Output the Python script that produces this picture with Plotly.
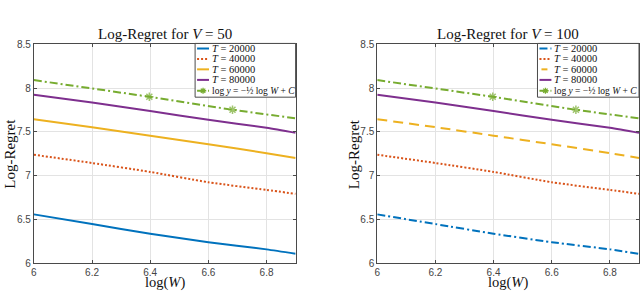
import plotly.graph_objects as go

# ---------------- data ----------------
log_W = [6.0, 6.2, 6.4, 6.6, 6.8, 6.9]
regret_T20000 = [6.558, 6.447, 6.337, 6.240, 6.158, 6.107]
regret_T40000 = [7.239, 7.145, 7.043, 6.925, 6.837, 6.793]
regret_T60000 = [7.645, 7.554, 7.457, 7.359, 7.257, 7.203]
regret_T80000 = [7.924, 7.837, 7.739, 7.638, 7.547, 7.489]
ref_log_W = [6.0, 6.397, 6.683, 6.9]
ref_log_y = [8.092, 7.902, 7.753, 7.655]
ref_marker_size = [0, 7, 7, 0]

series_labels = ["<i>T</i> = 20000", "<i>T</i> = 40000", "<i>T</i> = 60000", "<i>T</i> = 80000"]
ref_label = "log <i>y</i> = −½ log <i>W</i> + <i>C</i>"
panel_titles = ["Log-Regret for <i>V</i> = 50", "Log-Regret for <i>V</i> = 100"]
x_ticks = [6, 6.2, 6.4, 6.6, 6.8]
y_ticks = [6, 6.5, 7, 7.5, 8, 8.5]

series = [regret_T20000, regret_T40000, regret_T60000, regret_T80000]
colors = ["#0072BD", "#D95319", "#EDB120", "#7E2F8E"]
green = "#77AC30"
dashes = [
    ["solid", "2px,2px", "solid", "solid"],
    ["8px,3px,2px,3px", "2px,2px", "10px,6px", "solid"],
]
ref_dash = "8px,3px,2px,3px"

W, H = 640, 298
def px(x):
    return x / W
def py(y):
    return 1 - y / H

x_domains = [[px(31), px(294)], [px(376), px(639)]]
y_domain = [py(268), py(40)]

serif = "Liberation Serif"
sans = "Liberation Sans"

fig = go.Figure()
for p in range(2):
    xa = "x" if p == 0 else "x2"
    ya = "y" if p == 0 else "y2"
    for i, ys in enumerate(series):
        fig.add_trace(go.Scatter(
            x=log_W, y=ys, mode="lines", xaxis=xa, yaxis=ya,
            line=dict(color=colors[i], width=2, dash=dashes[p][i], shape="spline", smoothing=0.6),
            showlegend=False, hoverinfo="skip"))
    fig.add_trace(go.Scatter(
        x=ref_log_W, y=ref_log_y, mode="lines+markers", xaxis=xa, yaxis=ya,
        line=dict(color=green, width=2, dash=ref_dash),
        marker=dict(symbol="asterisk-open", size=ref_marker_size,
                    line=dict(color=green, width=1.5)),
        showlegend=False, hoverinfo="skip"))

axis_common = dict(
    showline=True, linecolor="#4a4a4a", linewidth=1, mirror="ticks",
    ticks="inside", ticklen=3, tickcolor="#4a4a4a",
    showgrid=True, gridcolor="#e3e3e3", gridwidth=1, zeroline=False,
    tickfont=dict(family=sans, size=10, color="#444444"),
)
layout = dict(
    width=W, height=H, margin=dict(l=0, r=0, t=0, b=0),
    paper_bgcolor="white", plot_bgcolor="white", showlegend=False,
    xaxis=dict(domain=x_domains[0], range=[6, 6.9], tickvals=x_ticks,
               ticktext=[f"{v:g}" for v in x_ticks], anchor="y", **axis_common),
    yaxis=dict(domain=y_domain, range=[6, 8.5], tickvals=y_ticks,
               ticktext=[f"{v:g}" for v in y_ticks], anchor="x", **axis_common),
    xaxis2=dict(domain=x_domains[1], range=[6, 6.9], tickvals=x_ticks,
                ticktext=[f"{v:g}" for v in x_ticks], anchor="y2", **axis_common),
    yaxis2=dict(domain=y_domain, range=[6, 8.5], tickvals=y_ticks,
                ticktext=[f"{v:g}" for v in y_ticks], anchor="x2", **axis_common),
)
fig.update_layout(**layout)

annotations = []
shapes = []
title_font = dict(family=serif, size=15, color="#111111")
xtitle_font = dict(family=serif, size=14.5, color="#111111")
for p in range(2):
    xc = (x_domains[p][0] + x_domains[p][1]) / 2
    annotations.append(dict(text=panel_titles[p], x=xc, y=py(29), xref="paper", yref="paper",
                            showarrow=False, xanchor="center", yanchor="middle", font=title_font))
    annotations.append(dict(text="log(<i>W</i>)", x=xc, y=py(297.5), xref="paper", yref="paper",
                            showarrow=False, xanchor="center", yanchor="bottom", font=xtitle_font,
                            borderpad=0))
    annotations.append(dict(text="Log-Regret", x=px(7 if p == 0 else 352), y=py(154),
                            xref="paper", yref="paper", textangle=-90, showarrow=False,
                            xanchor="center", yanchor="middle", font=title_font))

# manual legend boxes (matching the compact MATLAB legend)
legend_left = [193, 537]
legend_right = [294, 639]
legend_top = 39
legend_bottom = 95
entry_y = [44.3, 55.2, 66.0, 77.0, 88.3]
for p in range(2):
    L = legend_left[p]
    shapes.append(dict(type="rect", xref="paper", yref="paper",
                       x0=px(L), x1=px(legend_right[p]), y0=py(legend_bottom), y1=py(legend_top),
                       line=dict(color="#4a4a4a", width=1), fillcolor="white", layer="above"))
    labels = series_labels + [ref_label]
    cols = colors + [green]
    dsh = dashes[p] + [ref_dash]
    for k in range(5):
        yk = entry_y[k]
        x0s, x1s = L + 2, L + 14
        if p == 1 and k == 2:
            x0s, x1s = L + 4, L + 10
            dsh_k = "solid"
        else:
            dsh_k = dsh[k]
        shapes.append(dict(type="line", xref="paper", yref="paper",
                           x0=px(x0s), x1=px(x1s), y0=py(yk), y1=py(yk),
                           line=dict(color=cols[k], width=2, dash=dsh_k), layer="above"))
        if k == 4:
            cx, cy, r = L + 8, yk, 3.2
            d = (f"M{px(cx - r)},{py(cy)} L{px(cx + r)},{py(cy)} "
                 f"M{px(cx - r*0.7)},{py(cy - r*0.7)} L{px(cx + r*0.7)},{py(cy + r*0.7)} "
                 f"M{px(cx - r*0.7)},{py(cy + r*0.7)} L{px(cx + r*0.7)},{py(cy - r*0.7)} "
                 f"M{px(cx)},{py(cy - r)} L{px(cx)},{py(cy + r)}")
            shapes.append(dict(type="path", xref="paper", yref="paper", path=d,
                               line=dict(color=green, width=1.3), layer="above"))
        fs = 10.5 if k < 4 else 9.5
        annotations.append(dict(text=labels[k], x=px(L + 14.5), y=py(yk), xref="paper", yref="paper",
                                showarrow=False, xanchor="left", yanchor="middle",
                                font=dict(family=serif, size=fs, color="#111111")))

fig.update_layout(annotations=annotations, shapes=shapes)
fig.write_html("out.html", config={"displayModeBar": False},
               post_script="document.body.style.margin='0';document.body.style.overflow='hidden';")
